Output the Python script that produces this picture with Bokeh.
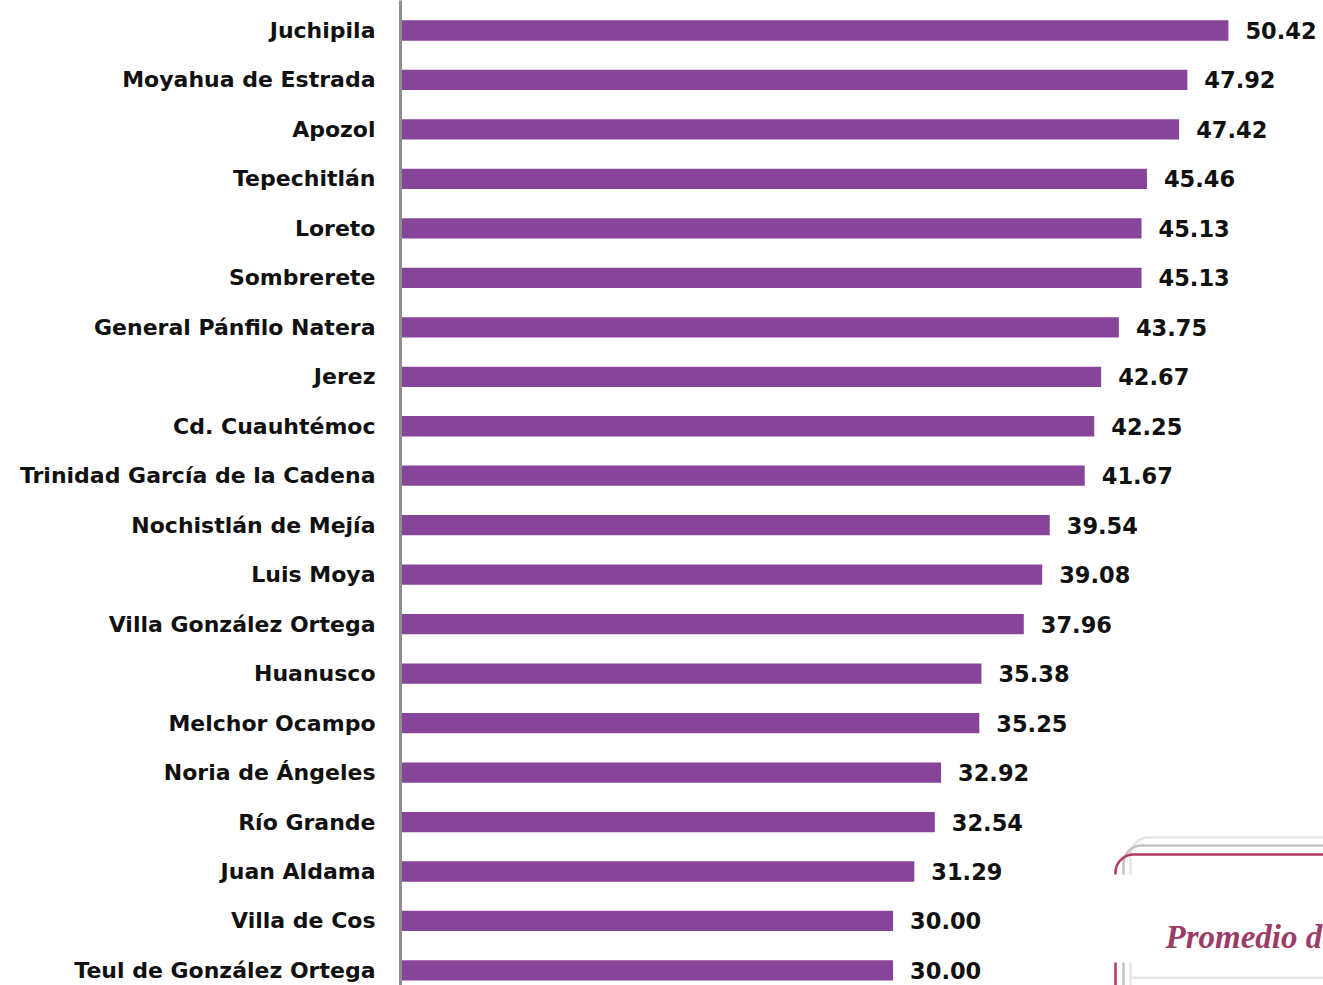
from bokeh.plotting import figure
from bokeh.models import Range1d, FixedTicker, BoxAnnotation, Label, ColumnDataSource
from bokeh.core.properties import value
from bokeh.embed import file_html
from bokeh.resources import INLINE

municipios = ["Juchipila", "Moyahua de Estrada", "Apozol", "Tepechitlán", "Loreto",
              "Sombrerete", "General Pánfilo Natera", "Jerez", "Cd. Cuauhtémoc",
              "Trinidad García de la Cadena", "Nochistlán de Mejía", "Luis Moya",
              "Villa González Ortega", "Huanusco", "Melchor Ocampo", "Noria de Ángeles",
              "Río Grande", "Juan Aldama", "Villa de Cos", "Teul de González Ortega"]
valores = [50.42, 47.92, 47.42, 45.46, 45.13, 45.13, 43.75, 42.67, 42.25, 41.67,
           39.54, 39.08, 37.96, 35.38, 35.25, 32.92, 32.54, 31.29, 30.00, 30.00]
caja_texto = "Promedio de"

BAR = "#87459A"
W, H = 1323, 985
LEFT = 400
ROW = 49.47
X_END = (W - LEFT) / 16.42
Y_TOP = -30 / ROW
Y_BOT = (H - 30) / ROW

pos = list(range(len(municipios)))
src = ColumnDataSource(dict(y=pos, v=valores, lab=["%.2f" % v for v in valores]))

p = figure(width=W, height=H, output_backend="svg", toolbar_location=None,
           x_range=Range1d(0, X_END), y_range=Range1d(Y_BOT, Y_TOP),
           min_border_left=LEFT, min_border_right=0, min_border_top=0, min_border_bottom=0)
p.outline_line_color = None
p.xgrid.grid_line_color = None
p.ygrid.grid_line_color = None
p.xaxis.visible = False

p.hbar(y="y", right="v", left=0, height=0.41, source=src, color=BAR, line_color=None)
p.text(x="v", y="y", text="lab", source=src, x_offset=17, text_baseline="middle",
       text_align="left", text_font=value("DejaVu Sans"), text_font_style="bold",
       text_font_size="22.5px", text_color="#111111")

ax = p.yaxis[0]
ax.ticker = FixedTicker(ticks=pos)
ax.major_label_overrides = {i: n for i, n in zip(pos, municipios)}
ax.major_label_text_font = "DejaVu Sans"
ax.major_label_text_font_style = "bold"
ax.major_label_text_font_size = "22px"
ax.major_label_text_color = "#111111"
ax.major_label_standoff = 19
ax.major_tick_line_color = None
ax.minor_tick_line_color = None
ax.axis_line_color = "#8f8f8f"
ax.axis_line_width = 3

# decoration box (pixel -> data helpers)
scale_x = (W - LEFT) / X_END
scale_y = ROW
def dx(px):
    return (px - LEFT) / scale_x
def dy(py):
    return Y_TOP + py / scale_y

for l, t, col in [(1130, 837, "#e6e6e6"), (1123, 845, "#c2c2c2"), (1115, 854, "#b03a60")]:
    p.add_layout(BoxAnnotation(left=dx(l), right=dx(1500), top=dy(t), bottom=dy(1100),
                               fill_alpha=0, line_color=col, line_alpha=1, line_width=2.5,
                               border_radius=18))
p.add_layout(BoxAnnotation(left=dx(1105), right=dx(1140), top=dy(874), bottom=dy(962),
                           fill_color="white", fill_alpha=1, line_alpha=0))
p.add_layout(BoxAnnotation(left=dx(1132), right=dx(1500), top=dy(976), bottom=dy(978.5),
                           fill_color="#e6e6e6", fill_alpha=1, line_alpha=0))
p.add_layout(Label(x=dx(1165), y=dy(936), text=caja_texto, text_font="Liberation Serif",
                   text_font_style="bold italic", text_font_size="33px", text_color="#9c3d68",
                   text_baseline="alphabetic"))

open("out.html", "w").write(file_html(p, INLINE))
